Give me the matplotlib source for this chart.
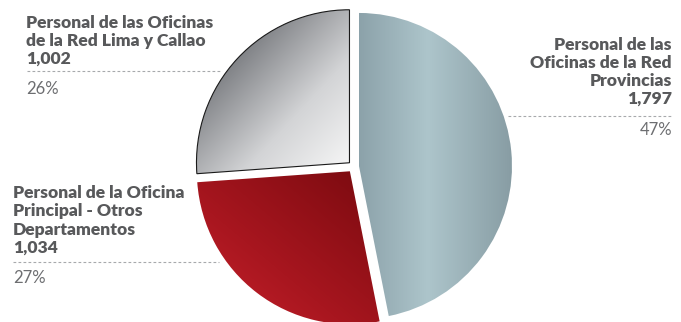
import numpy as np
import matplotlib.pyplot as plt
from matplotlib.colors import LinearSegmentedColormap

plt.rcParams['font.family'] = ['Lato', 'DejaVu Sans']

# Personal por tipo de oficina
categorias = [
    "Personal de las\nOficinas de la Red\nProvincias",
    "Personal de la Oficina\nPrincipal - Otros\nDepartamentos",
    "Personal de las Oficinas\nde la Red Lima y Callao",
]
personal = [1797, 1034, 1002]

W, H = 681, 322
fig = plt.figure(figsize=(W / 100, H / 100), dpi=100)
ax = fig.add_axes([0, 0, 1, 1])

R = 153
centro = (353.5, H - 166.5)
separacion = [5.5, 6.0, 5.5]  # en pixeles, pie no lo escala con el radio

wedges, _ = ax.pie(personal, explode=separacion, startangle=90, counterclock=False,
                   radius=R, center=centro, colors=['none'] * 3,
                   wedgeprops=dict(linewidth=0))
ax.set_xlim(0, W)
ax.set_ylim(0, H)
ax.set_aspect('auto')
ax.axis('off')

# degradados de cada sector
degradados = [
    ([(0, '#8ca2aa'), (0.45, '#adc5cb'), (1, '#889da4')], 'x'),
    ([(0, '#790a0f'), (0.6, '#a8161f'), (1, '#c8222c')], 'rojo'),
    ([(0, '#55575a'), (0.3, '#85878b'), (0.65, '#d3d4d6'), (1, '#f8f8f8')], 'gris'),
]
for w, (stops, modo) in zip(wedges, degradados):
    bb = w.get_path().get_extents()
    X, Y = np.meshgrid(np.linspace(bb.x0, bb.x1, 300), np.linspace(bb.y0, bb.y1, 300))
    u = (X - bb.x0) / bb.width
    v = (Y - bb.y0) / bb.height
    if modo == 'x':
        t = u
    elif modo == 'rojo':
        t = ((1 - u) + (1 - v)) / 2
    else:
        t = (u + (1 - v)) / 2
    cmap = LinearSegmentedColormap.from_list(modo, stops)
    im = ax.imshow(t, cmap=cmap, vmin=0, vmax=1, origin='lower',
                   extent=[bb.x0, bb.x1, bb.y0, bb.y1], interpolation='bilinear',
                   zorder=1)
    im.set_clip_path(w)

wedges[2].set_edgecolor('#1a1a1a')
wedges[2].set_linewidth(0.8)
wedges[2].set_zorder(2)

# etiquetas: x, alineacion, primera linea base, paso, linea punteada, x punteada, base del %
etiquetas = [
    (672, 'right', 50, 18, 116, (508, 672), 135),
    (13, 'left', 198, 18.3, 262, (13, 219), 283),
    (26, 'left', 28, 17.8, 71, (27, 222), 94),
]
total = sum(personal)
for nombre, valor, (x, ha, y0, paso, yp, (xa, xb), ypct) in zip(categorias, personal, etiquetas):
    lineas = nombre.split('\n') + [f"{valor:,}"]
    for i, linea in enumerate(lineas):
        ax.text(x, H - (y0 + i * paso), linea, ha=ha, va='baseline',
                fontsize=12.6, fontweight='heavy', color='#58595b')
    ax.plot([xa, xb], [H - yp, H - yp], color='#a7a9ac', lw=0.8,
            linestyle=(0, (2.5, 2)))
    ax.text(x, H - ypct, f"{round(valor / total * 100)}%", ha=ha, va='baseline',
            fontsize=12, color='#6d6e71')

fig.savefig('out.png', dpi=100)
